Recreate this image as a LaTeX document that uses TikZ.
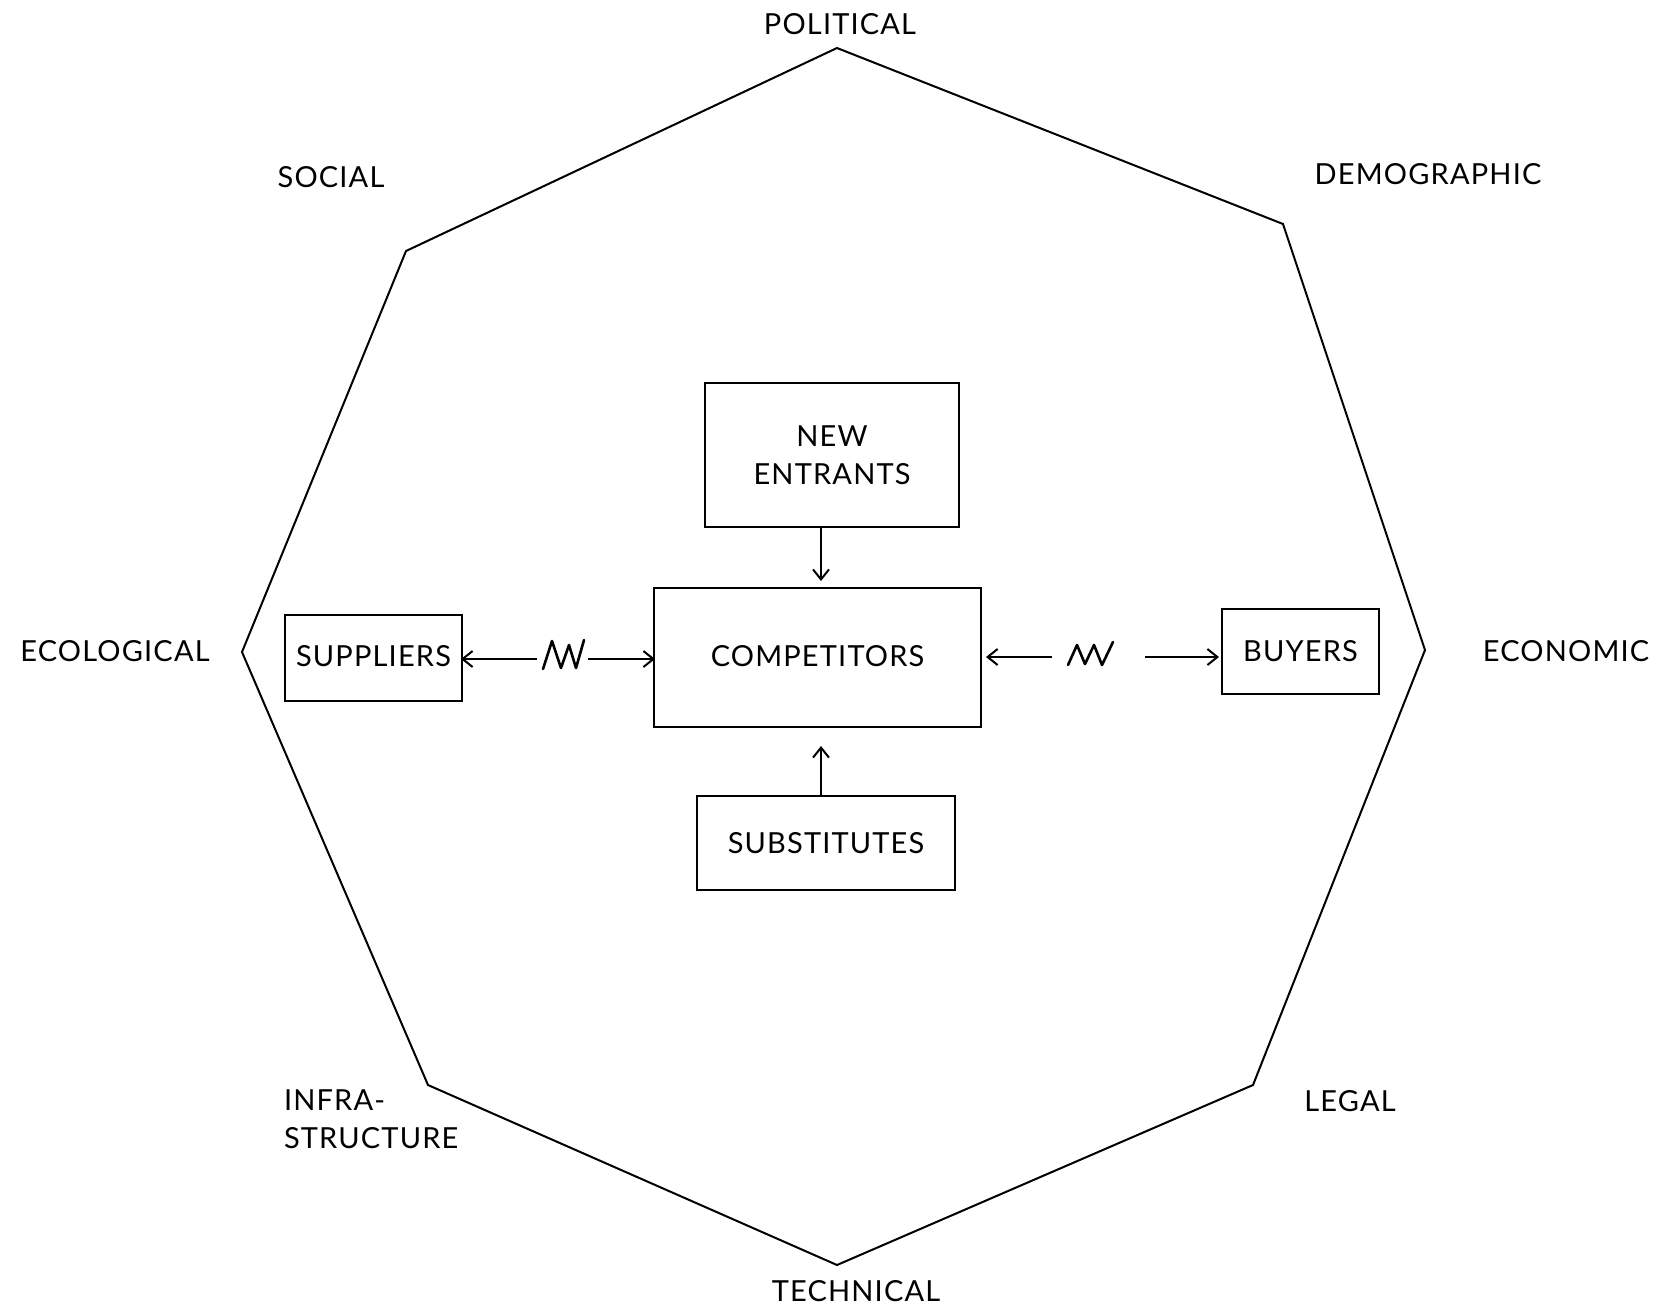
\documentclass[tikz,border=0pt]{standalone}
\usepackage{fontspec}
\setmainfont{Lato}[LetterSpace=4]
\usetikzlibrary{arrows.meta,calc}
\begin{document}
\begin{tikzpicture}[x=0.5pt,y=-0.5pt,
  line width=1pt,
  lbl/.style={font=\fontsize{14.5pt}{17pt}\selectfont, inner sep=0pt},
  box/.style={draw, line width=1pt, inner sep=0pt, font=\fontsize{14.5pt}{19pt}\selectfont},
  arr/.style={-{Straight Barb[length=5pt,width=8pt]}, line width=1pt},
  wig/.style={line width=1.3pt, line join=round, line cap=round}]
\useasboundingbox (0,0) rectangle (1676,1308);
% octagon
\coordinate (oT) at (837,48);
\coordinate (oUR) at (1283,224);
\coordinate (oR) at (1425,650);
\coordinate (oLR) at (1253,1085);
\coordinate (oB) at (837,1265);
\coordinate (oLL) at (428,1085);
\coordinate (oL) at (242,652);
\coordinate (oUL) at (406,251);
\draw[line width=1pt, line join=miter] (oT) -- (oUR) -- (oR) -- (oLR) -- (oB) -- (oLL) -- (oL) -- (oUL) -- cycle;
% outer labels
\node[lbl] (political) at (840,24) {POLITICAL};
\node[lbl] (social) at (331,177) {SOCIAL};
\node[lbl] (demographic) at (1428,174) {DEMOGRAPHIC};
\node[lbl] (ecological) at (115,651) {ECOLOGICAL};
\node[lbl] (economic) at (1566,651) {ECONOMIC};
\node[lbl, anchor=west, align=left] (infra) at (283,1119) {INFRA-\\[2pt]STRUCTURE};
\node[lbl] (legal) at (1350,1101) {LEGAL};
\node[lbl] (technical) at (856,1291) {TECHNICAL};
% boxes
\node[box, align=center, minimum width=127pt, minimum height=72pt] (new) at (832,455) {NEW\\ENTRANTS};
\node[box, minimum width=163.5pt, minimum height=69.5pt] (comp) at (817.5,657.5) {\raisebox{2pt}{COMPETITORS}};
\node[box, minimum width=129pt, minimum height=47pt] (subs) at (826,843) {SUBSTITUTES};
\node[box, minimum width=88.5pt, minimum height=43pt] (supp) at (373.5,658) {\raisebox{2.5pt}{SUPPLIERS}};
\node[box, minimum width=78.5pt, minimum height=42.5pt] (buy) at (1300.5,651.5) {BUYERS};
% vertical arrows
\draw[arr, shorten >=3pt] ([xshift=-5.5pt]new.south) -- ([xshift=-5.5pt]new.south |- comp.north);
\draw[arr, shorten >=9pt] ([xshift=-2.5pt]subs.north) -- ([xshift=-2.5pt]subs.north |- comp.south);
% left connector with wiggle
\coordinate (lw1) at (537,659);
\coordinate (lw2) at (588,659);
\draw[arr, shorten >=-1pt] (lw1) -- (supp.east |- lw1);
\draw[arr, shorten >=-1pt] (lw2) -- (comp.west |- lw2);
\draw[wig] (543,669) -- (552,641) -- (561,668) -- (569,645) -- (576,668) -- (584,640);
% right connector with wiggle
\coordinate (rw1) at (1052,657);
\coordinate (rw2) at (1145,657);
\draw[arr, shorten >=2pt] (rw1) -- (comp.east |- rw1);
\draw[arr, shorten >=1pt] (rw2) -- (buy.west |- rw2);
\draw[wig] (1068,665) -- (1077,645) -- (1085,664) -- (1094,645) -- (1102,665) -- (1113,642);
\end{tikzpicture}
\end{document}
